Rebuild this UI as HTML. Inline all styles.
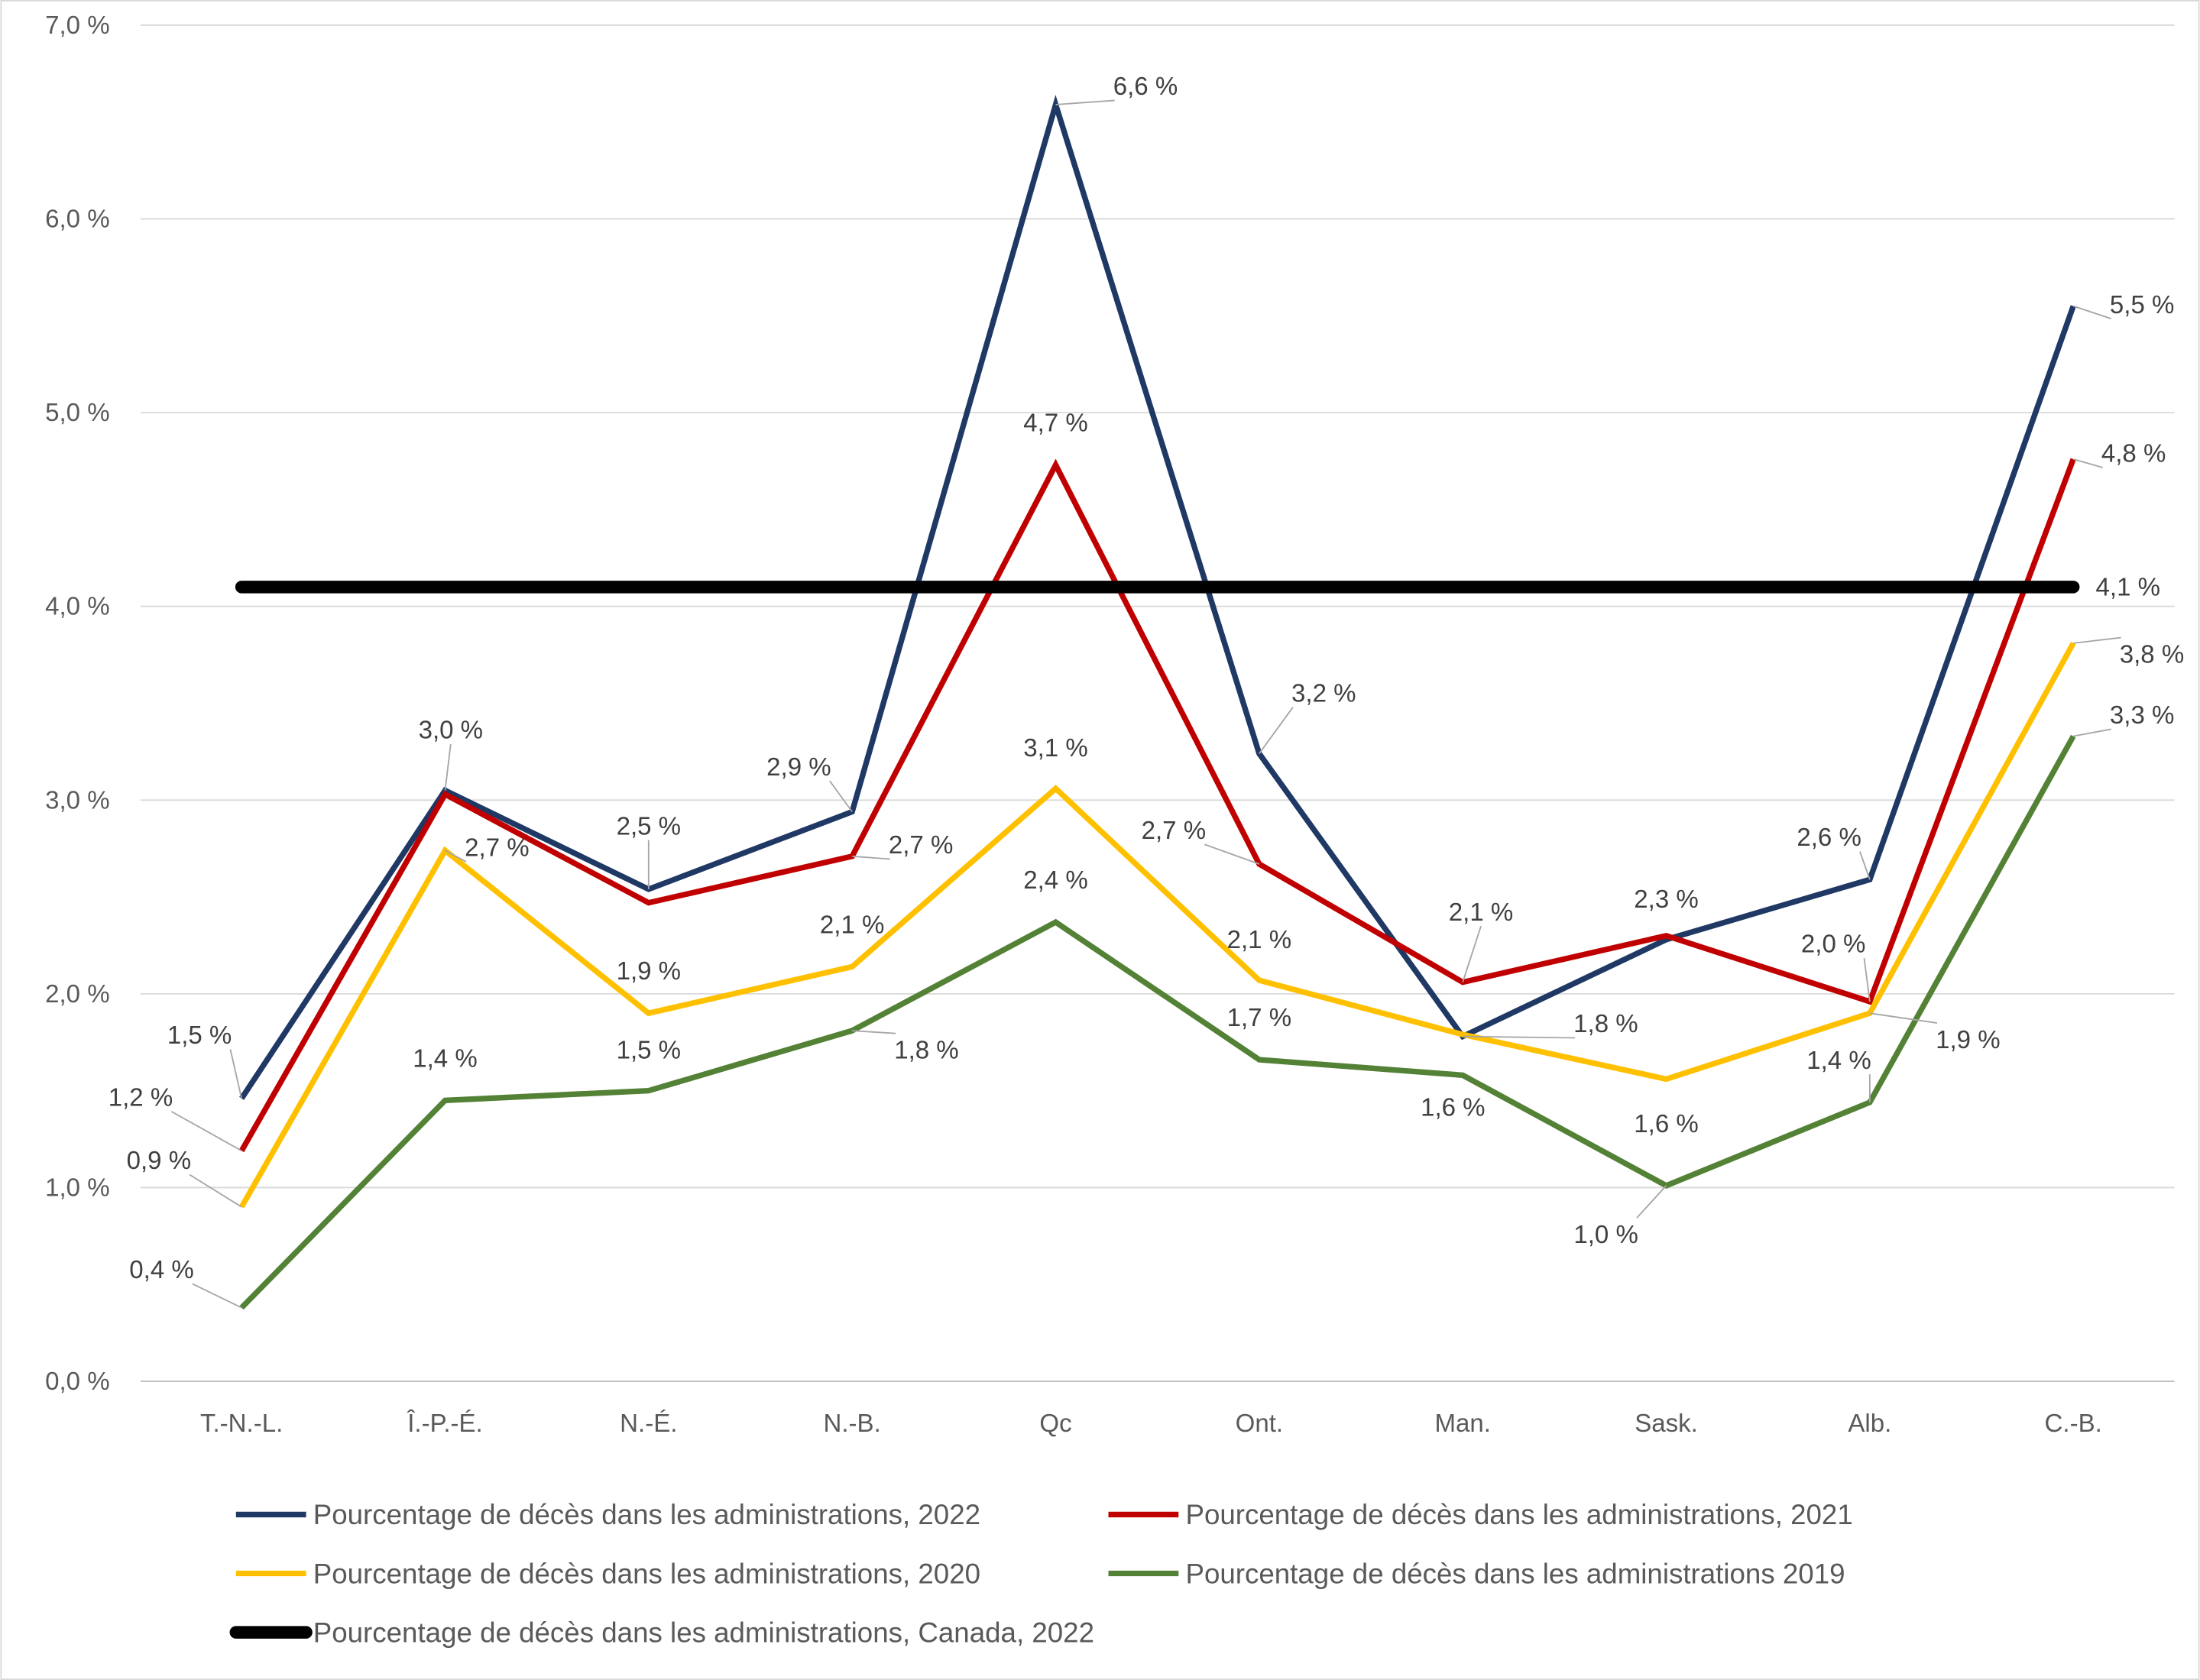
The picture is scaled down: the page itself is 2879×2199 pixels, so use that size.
<!DOCTYPE html>
<html><head><meta charset="utf-8"><style>
html,body{margin:0;padding:0;background:#fff}
svg{display:block;font-family:"Liberation Sans",Calibri,sans-serif}
</style></head><body>
<svg id="chart" width="2879" height="2199" viewBox="0 0 1568 1198" xmlns="http://www.w3.org/2000/svg">
<rect x="0.5" y="0.5" width="1567" height="1197" fill="#fff" stroke="#d9d9d9"/>
<g id="grid"></g><g id="axes"></g><g id="series"></g><g id="labels"></g><g id="legend"></g>
</svg>
<script>
const categories=["T.-N.-L.","Î.-P.-É.","N.-É.","N.-B.","Qc","Ont.","Man.","Sask.","Alb.","C.-B."];
const s2022=[1.46,3.05,2.54,2.94,6.59,3.24,1.78,2.28,2.59,5.55];
const s2021=[1.19,3.03,2.47,2.71,4.73,2.67,2.06,2.30,1.96,4.76];
const s2020=[0.90,2.74,1.90,2.14,3.06,2.07,1.79,1.56,1.90,3.81];
const s2019=[0.38,1.45,1.50,1.81,2.37,1.66,1.58,1.01,1.44,3.33];
const canada=[4.1,4.1,4.1,4.1,4.1,4.1,4.1,4.1,4.1,4.1];
const yTicks=[0,1,2,3,4,5,6,7];
const NS="http://www.w3.org/2000/svg";
function x(i){return 172+i*145.1;}
function y(v){return 985-v*138.15;}
function mk(tag,attrs,parent){const e=document.createElementNS(NS,tag);for(const k in attrs)e.setAttribute(k,attrs[k]);parent.appendChild(e);return e;}
function fmt(v){return v.toFixed(1).replace('.',',')+' %';}
const grid=document.getElementById('grid'),axes=document.getElementById('axes');
yTicks.forEach(t=>{
 const l=mk('line',{x1:100,x2:1550,y1:y(t),y2:y(t),stroke:t===0?'#bfbfbf':'#d9d9d9','stroke-width':1},grid);
 
 
 const tx=mk('text',{x:78,y:y(t)+6,'text-anchor':'end','font-size':18,fill:'#595959'},axes);
 tx.textContent=fmt(t);
 
 
});
categories.forEach((c,i)=>{
 const tx=mk('text',{x:x(i),y:1021,'text-anchor':'middle','font-size':18,fill:'#595959'},axes);
 tx.textContent=c;
 
 
});
const seriesDefs=[
 {name:'series-2022',data:s2022,color:'#1F3864',w:4,off:[[-30,-45],[4,-43],[0,-45],[-38,-32],[64,-13],[46,-43],[102,-9],null,[-29,-30],[49,-1]]},
 {name:'series-2021',data:s2021,color:'#C00000',w:4,off:[[-72,-38],null,null,[49,-8],[0,-30],[-61,-24],[13,-50],[0,-26],[-26,-41],[43,-4]]},
 {name:'series-2020',data:s2020,color:'#FFC000',w:4,off:[[-59,-33],[37,-2],[0,-30],[0,-30],[0,-29],[0,-29],null,[0,32],[70,19],[56,8]]},
 {name:'series-2019',data:s2019,color:'#538135',w:4,off:[[-57,-27],[0,-30],[0,-29],[53,14],[0,-30],[0,-30],[-7,23],[-43,35],[-22,-30],[49,-15]]},
 {name:'series-canada',data:canada,color:'#000',w:9,off:[null,null,null,null,null,null,null,null,null,[39,0]]}
];
const sg=document.getElementById('series'),lg=document.getElementById('labels');
seriesDefs.forEach(s=>{
 const p=mk('polyline',{points:s.data.map((v,i)=>x(i)+','+y(v)).join(' '),fill:'none',stroke:s.color,'stroke-width':s.w,'stroke-linejoin':'miter','stroke-linecap':s.w>5?'round':'butt'},sg);
 
 
 s.data.forEach((v,i)=>{
  const o=s.off[i]; if(!o)return;
  const px=x(i),py=y(v),lx=px+o[0],ly=py+o[1];
  if(Math.hypot(o[0],o[1])>36&&s.w<5){
   const ex=lx-Math.sign(o[0])*(Math.abs(o[0])>20?22:0), ey=ly+(o[1]<0?10:-12);
   const ln=mk('polyline',{points:px+','+py+' '+ex+','+ey,fill:'none',stroke:'#a6a6a6','stroke-width':1},lg);
   
   
  }
  const t=mk('text',{x:lx,y:ly+6,'text-anchor':'middle','font-size':18,fill:'#404040'},lg);
  t.textContent=fmt(v);
  
  
 });
});
const legendItems=[
 ['Pourcentage de décès dans les administrations, 2022','#1F3864',4,168,1080],
 ['Pourcentage de décès dans les administrations, 2021','#C00000',4,790,1080],
 ['Pourcentage de décès dans les administrations, 2020','#FFC000',4,168,1122],
 ['Pourcentage de décès dans les administrations 2019','#538135',4,790,1122],
 ['Pourcentage de décès dans les administrations, Canada, 2022','#000',9,168,1164]
];
const lgd=document.getElementById('legend');
legendItems.forEach(it=>{
 const g=mk('g',{},lgd);
 
 
 mk('line',{x1:it[3],x2:it[3]+50,y1:it[4],y2:it[4],stroke:it[1],'stroke-width':it[2],'stroke-linecap':it[2]>5?'round':'butt'},g);
 const t=mk('text',{x:it[3]+55,y:it[4]+7,'font-size':20,fill:'#595959'},g);
 t.textContent=it[0];
});
</script>
</body></html>
